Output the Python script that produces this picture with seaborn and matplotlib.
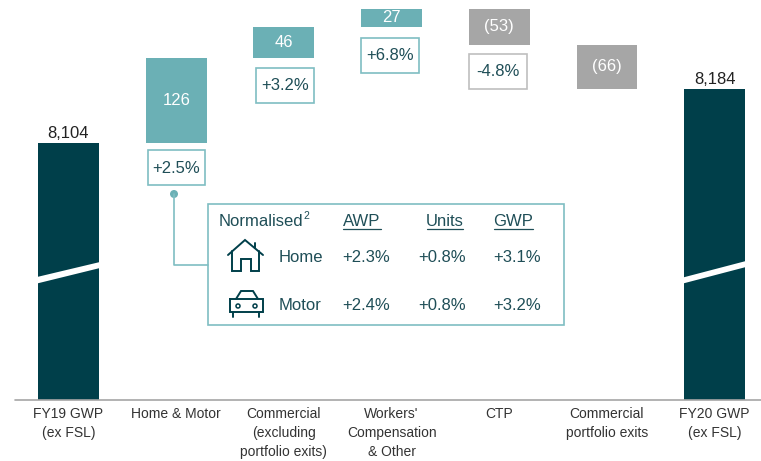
import matplotlib
matplotlib.use('Agg')
import matplotlib.pyplot as plt
from matplotlib.patches import Rectangle, Polygon, Circle
import seaborn as sns

categories = ['FY19 GWP\n(ex FSL)', 'Home & Motor', 'Commercial\n(excluding\nportfolio exits)',
              "Workers'\nCompensation\n& Other", 'CTP', 'Commercial\nportfolio exits', 'FY20 GWP\n(ex FSL)']
start_total = 8104
end_total = 8184
deltas = [126, 46, 27, -53, -66]
delta_labels = ['126', '46', '27', '(53)', '(66)']
growth_labels = ['+2.5%', '+3.2%', '+6.8%', '-4.8%']
table_headers = ['AWP', 'Units', 'GWP']
home_row = ['+2.3%', '+0.8%', '+3.1%']
motor_row = ['+2.4%', '+0.8%', '+3.2%']

DARK = '#003F4A'
TEAL = '#6BB0B5'
GREY = '#A6A6A6'
EDGE = '#7FBEC2'
TXT = '#1F4E57'

sns.set_theme(style='white')
plt.rcParams['font.family'] = ['Liberation Sans', 'DejaVu Sans']

# waterfall: floating bars start where the previous one ended
bases = [0]
heights = [start_total]
level = start_total
for d in deltas:
    bases.append(min(level, level + d))
    heights.append(abs(d))
    level += d
bases.append(0)
heights.append(end_total)
colors = [DARK, TEAL, TEAL, TEAL, GREY, GREY, DARK]

fig = plt.figure(figsize=(7.61, 4.61), dpi=100)
ax = fig.add_axes([0, 61 / 461, 1, 400 / 461])
sns.barplot(x=categories, y=heights, bottom=bases, width=0.565, color=DARK, errorbar=None,
            linewidth=0, ax=ax)
for p, c in zip(ax.patches, colors):
    p.set_facecolor(c)
ax.set_xlim(-0.636, 6.43)
ax.set_ylim(7723, 8316)
sns.despine(ax=ax, left=True, bottom=True)
ax.set_yticks([])
ax.tick_params(axis='x', length=0, pad=5, labelsize=10, labelcolor='#333333')
for t in ax.get_xticklabels():
    t.set_linespacing(1.45)

# value labels
ax.text(0, start_total + 3, f'{start_total:,}', ha='center', va='bottom', fontsize=12, color='#222222')
ax.text(6, end_total + 3, f'{end_total:,}', ha='center', va='bottom', fontsize=12, color='#222222')
for i, lab in enumerate(delta_labels):
    ax.text(i + 1, bases[i + 1] + heights[i + 1] / 2, lab, ha='center', va='center', fontsize=12, color='white')

# overlay in image pixels for the call-outs
ov = fig.add_axes([0, 0, 1, 1])
ov.set_xlim(0, 761)
ov.set_ylim(461, 0)
ov.axis('off')
ov.patch.set_alpha(0)

ov.plot([15, 761], [400, 400], color='#A6A6A6', lw=1.2)

# axis break bands
ov.add_patch(Polygon([(37, 277), (100, 262), (100, 268), (37, 283.5)], fc='white', ec='none'))
ov.add_patch(Polygon([(683, 277.5), (746, 261), (746, 267), (683, 283.5)], fc='white', ec='none'))

# growth boxes
boxes = [(148, 150, 57, 35), (256, 68, 58, 35), (361, 38, 58, 35), (469, 54, 58, 35)]
for (x, y, w, h), lab, ec in zip(boxes, growth_labels, [EDGE, EDGE, EDGE, '#BFBFBF']):
    ov.add_patch(Rectangle((x, y), w, h, fc='white', ec=ec, lw=1.2))
    ov.text(x + w / 2, y + h / 2 + 0.5, lab, ha='center', va='center', fontsize=12, color=TXT)

# connector and panel
ov.plot([174, 174, 208], [194, 265, 265], color=EDGE, lw=1.2)
ov.add_patch(Circle((174, 194), 4, fc=TEAL, ec='none'))
ov.add_patch(Rectangle((208, 204), 356, 121, fc='white', ec=EDGE, lw=1.2))

ov.text(219, 221, 'Normalised', ha='left', va='center', fontsize=12, color=TXT)
ov.text(303, 216, '2', ha='left', va='center', fontsize=7.5, color=TXT)
for x, lab in zip([362, 445, 513], table_headers):
    t = ov.text(x, 221, lab, ha='center', va='center', fontsize=12, color=TXT)
for x0, x1 in [(343, 381), (427, 463), (494, 533)]:
    ov.plot([x0, x1], [229, 229], color=TXT, lw=0.9)

ov.text(279, 257, 'Home', ha='left', va='center', fontsize=12, color=TXT)
ov.text(279, 305, 'Motor', ha='left', va='center', fontsize=12, color=TXT)
for x, a, b in zip([366, 442, 517], home_row, motor_row):
    ov.text(x, 257, a, ha='center', va='center', fontsize=12, color=TXT)
    ov.text(x, 305, b, ha='center', va='center', fontsize=12, color=TXT)

# house icon
ic = dict(color=DARK, lw=1.4, solid_joinstyle='miter')
ov.plot([228, 245, 263], [255, 240, 255], **ic)
ov.plot([232, 232, 241, 241, 251, 251, 259, 259], [251, 271, 271, 259, 259, 271, 271, 251], **ic)
ov.plot([255, 255], [243, 248], **ic)

# car icon
ov.plot([236, 241, 253, 258], [299, 291, 291, 299], **ic)
ov.plot([230, 263, 263, 230, 230], [299, 299, 312, 312, 299], **ic)
ov.plot([233, 233], [312, 317], **ic)
ov.plot([259, 259], [312, 317], **ic)
ov.add_patch(Circle((238, 306), 2, fc='none', ec=DARK, lw=1.1))
ov.add_patch(Circle((255, 306), 2, fc='none', ec=DARK, lw=1.1))

fig.savefig('out.png', dpi=100)
